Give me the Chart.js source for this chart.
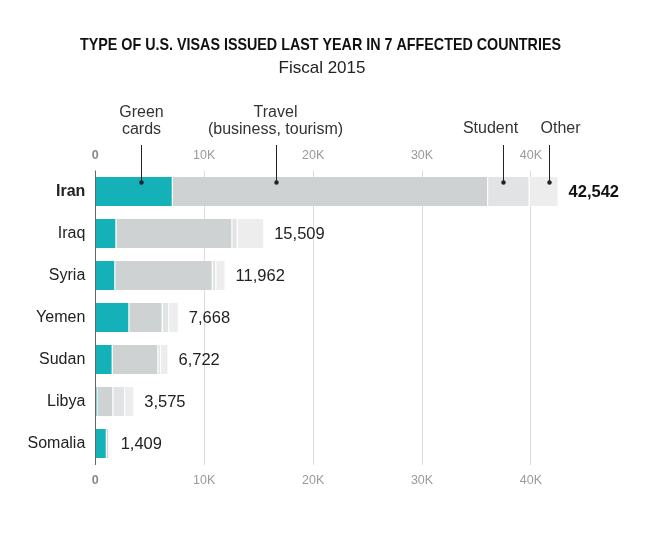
<!DOCTYPE html>
<html>
<head>
<meta charset="utf-8">
<script src="https://cdn.jsdelivr.net/npm/chart.js@4"></script>
<style>
  body { margin: 0; background: #fff; }
  #canvas { display: block; }
</style>
</head>
<body>
<canvas id="canvas" width="665" height="540"></canvas>
<script>
const canvas = document.getElementById("canvas");

// data
const countries = ["Iran", "Iraq", "Syria", "Yemen", "Sudan", "Libya", "Somalia"];
const greenCards = [7110, 1930, 1830, 3120, 1590, 180, 1050];
const travel = [28960, 10650, 8950, 3060, 4190, 1470, 220];
const student = [3800, 480, 320, 600, 250, 1080, 40];
const other = [2672, 2449, 862, 888, 692, 845, 99];
const tickValues = [0, 10000, 20000, 30000, 40000];
const tickLabels = ["0", "10K", "20K", "30K", "40K"];

const legendNames = [["Green", "cards"], ["Travel", "(business, tourism)"], ["Student"], ["Other"]];
// where the leader lines hit the Iran bar (in axis units)
const leaderAt = [4200, 16600, 37400, 41700];
const leaderTextShift = [0, -1, -13, 11];

const sans = "'Liberation Sans', Arial, sans-serif";

function totalFor(i) {
    return greenCards[i] + travel[i] + student[i] + other[i];
}

const textPlugin = {
    id: "textPlugin",
    afterDraw(chart) {
        const ctx = chart.ctx;
        const xs = chart.scales.x;
        const ys = chart.scales.y;
        ctx.save();

        // title (squeezed to look condensed)
        ctx.fillStyle = "#111";
        ctx.textAlign = "center";
        ctx.textBaseline = "middle";
        ctx.font = "bold 17px " + sans;
        ctx.fillText("TYPE OF U.S. VISAS ISSUED LAST YEAR IN 7 AFFECTED COUNTRIES", 320.5, 45, 481);
        ctx.font = "17px " + sans;
        ctx.fillStyle = "#222";
        ctx.fillText("Fiscal 2015", 322, 68);

        // leader labels
        ctx.font = "16px " + sans;
        ctx.fillStyle = "#333";
        const barTop = ys.getPixelForValue(0) - 9;
        for (let i = 0; i < legendNames.length; i++) {
            const lx = Math.round(xs.getPixelForValue(leaderAt[i])) + 0.5;
            const lines = legendNames[i];
            const tx = lx + leaderTextShift[i];
            if (lines.length === 2) {
                ctx.fillText(lines[0], tx, 113);
                ctx.fillText(lines[1], tx, 130);
            } else {
                ctx.fillText(lines[0], tx, 129);
            }
            ctx.strokeStyle = "#222";
            ctx.lineWidth = 1;
            ctx.beginPath();
            ctx.moveTo(lx, 145);
            ctx.lineTo(lx, barTop);
            ctx.stroke();
            ctx.fillStyle = "#222";
            ctx.beginPath();
            ctx.arc(lx, barTop, 2.2, 0, Math.PI * 2);
            ctx.fill();
            ctx.fillStyle = "#333";
        }

        // totals at the bar ends
        ctx.textAlign = "left";
        for (let i = 0; i < countries.length; i++) {
            const t = totalFor(i);
            ctx.font = (i === 0 ? "bold 16.5px " : "16.5px ") + sans;
            ctx.fillStyle = i === 0 ? "#111" : "#222";
            ctx.fillText(t.toLocaleString("en-US"), xs.getPixelForValue(t) + 10, ys.getPixelForValue(i) + 1);
        }
        ctx.restore();
    }
};

const segBorder = { top: 0, bottom: 0, left: 0, right: 1 };

function xAxis(pos) {
    return {
        type: "linear",
        position: pos,
        stacked: true,
        min: 0,
        max: 50000,
        afterBuildTicks: (scale) => {
            scale.ticks = tickValues.map(v => ({ value: v }));
        },
        afterFit: (scale) => {
            scale.height = pos === "top" ? 30.5 : 35.5;
        },
        border: { display: false },
        grid: {
            display: pos === "bottom",
            drawTicks: false,
            color: (c) => c.tick && c.tick.value === 0 ? "#666" : "#dcdcdc",
            lineWidth: 1
        },
        ticks: {
            padding: pos === "top" ? 7 : 9,
            color: (c) => c.tick && c.tick.value === 0 ? "#888" : "#9a9a9a",
            font: (c) => ({
                size: 12.5,
                family: sans,
                weight: c.tick && c.tick.value === 0 ? "bold" : "normal"
            }),
            callback: (v) => tickLabels[tickValues.indexOf(v)]
        }
    };
}

const myChartConfig = {
    type: "bar",
    data: {
        labels: countries,
        datasets: [
            { label: "Green cards", data: greenCards, backgroundColor: "#14b1b8" },
            { label: "Travel (business, tourism)", data: travel, backgroundColor: "#cfd2d3" },
            { label: "Student", data: student, backgroundColor: "#e2e3e4" },
            { label: "Other", data: other, backgroundColor: "#ededed" }
        ].map(d => Object.assign(d, {
            borderColor: "#ffffff",
            borderWidth: segBorder,
            borderSkipped: false,
            barPercentage: 0.69,
            categoryPercentage: 1,
            xAxisID: "x",
            yAxisID: "y"
        }))
    },
    options: {
        indexAxis: "y",
        responsive: false,
        animation: false,
        devicePixelRatio: 1,
        layout: { padding: { top: 140, left: 0, right: 25.2, bottom: 40 } },
        scales: {
            x: xAxis("bottom"),
            x2: Object.assign(xAxis("top"), { stacked: false }),
            y: {
                stacked: true,
                afterFit: (scale) => { scale.width = 95.3; },
                border: { display: false },
                grid: { display: false, drawTicks: false },
                ticks: {
                    padding: 10,
                    color: "#222",
                    font: (c) => ({
                        size: 16,
                        family: sans,
                        weight: c.index === 0 ? "bold" : "normal"
                    })
                }
            }
        },
        plugins: {
            legend: { display: false },
            tooltip: { enabled: false }
        }
    },
    plugins: [textPlugin]
};

var myChart = new Chart(canvas.getContext("2d"), myChartConfig);
</script>
</body>
</html>
